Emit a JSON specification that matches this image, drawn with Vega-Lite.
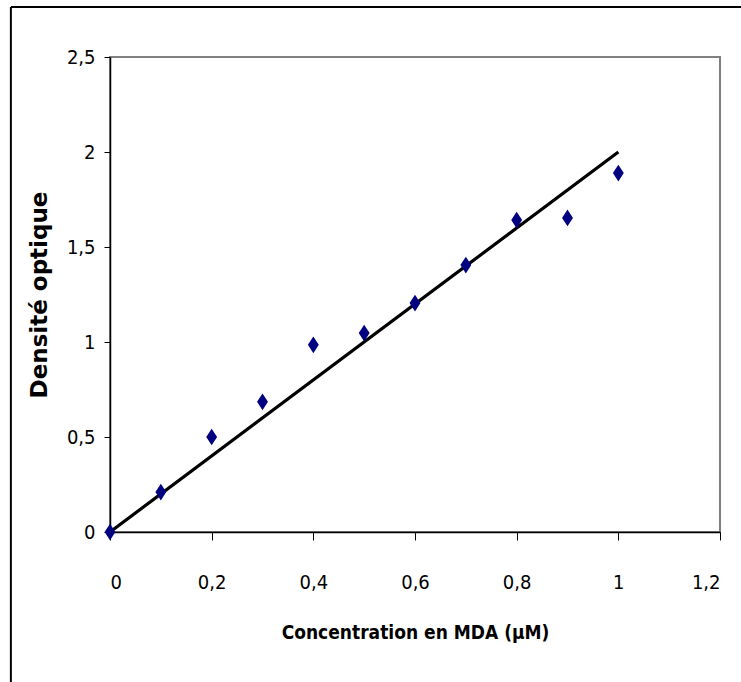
{
  "$schema": "https://vega.github.io/schema/vega-lite/v6.json",
  "width": 610,
  "height": 475,
  "autosize": {"type": "none"},
  "padding": {"left": 110, "top": 57, "right": 21, "bottom": 150},
  "background": "white",
  "config": {
    "locale": {"number": {"decimal": ",", "thousands": ".", "grouping": [3], "currency": ["", " €"]}},
    "view": {"stroke": "#808080", "strokeWidth": 2},
    "axis": {
      "grid": false,
      "domainColor": "#000000",
      "domainWidth": 1.5,
      "tickColor": "#000000",
      "tickWidth": 1,
      "labelFont": "DejaVu Sans Condensed, Roboto Condensed, Liberation Sans, sans-serif",
      "labelFontSize": 20,
      "labelColor": "#000000",
      "titleColor": "#000000",
      "titleFontWeight": "bold"
    }
  },
  "datasets": {
    "points": [
      {"conc": 0, "od": 0},
      {"conc": 0.1, "od": 0.21},
      {"conc": 0.2, "od": 0.5},
      {"conc": 0.3, "od": 0.685},
      {"conc": 0.4, "od": 0.985},
      {"conc": 0.5, "od": 1.047},
      {"conc": 0.6, "od": 1.205},
      {"conc": 0.7, "od": 1.405},
      {"conc": 0.8, "od": 1.642},
      {"conc": 0.9, "od": 1.653},
      {"conc": 1.0, "od": 1.889}
    ],
    "fit": [
      {"conc": 0, "od": 0},
      {"conc": 1.0, "od": 2.0}
    ],
    "one": [{}]
  },
  "layer": [
    {
      "data": {"name": "fit"},
      "mark": {"type": "line", "color": "#000000", "strokeWidth": 3.2, "clip": false},
      "encoding": {
        "x": {
          "field": "conc",
          "type": "quantitative",
          "scale": {"domain": [0, 1.2], "nice": false},
          "axis": {
            "values": [0, 0.2, 0.4, 0.6, 0.8, 1.0, 1.2],
            "format": "~g",
            "tickSize": 8,
            "labelPadding": 32,
            "title": "Concentration en MDA (µM)",
            "titleFont": "DejaVu Sans Condensed, Roboto Condensed, Liberation Sans, sans-serif",
            "titleFontSize": 19,
            "titlePadding": 31
          }
        },
        "y": {
          "field": "od",
          "type": "quantitative",
          "scale": {"domain": [0, 2.5], "nice": false},
          "axis": {
            "values": [0, 0.5, 1, 1.5, 2, 2.5],
            "format": "~g",
            "tickSize": 6,
            "labelPadding": 9,
            "title": "Densité optique",
            "titleFont": "DejaVu Sans, sans-serif",
            "titleFontSize": 23,
            "titlePadding": 15
          }
        }
      }
    },
    {
      "data": {"name": "points"},
      "mark": {
        "type": "point",
        "shape": "M0,-1L0.65,0L0,1L-0.65,0Z",
        "filled": true,
        "color": "#000080",
        "opacity": 1,
        "size": 280,
        "clip": false
      },
      "encoding": {
        "x": {"field": "conc", "type": "quantitative"},
        "y": {"field": "od", "type": "quantitative"}
      }
    },
    {
      "data": {"name": "one"},
      "mark": {"type": "rule", "color": "#000000", "strokeWidth": 2, "clip": false},
      "encoding": {
        "x": {"datum": -0.195},
        "y": {"datum": 2.763},
        "y2": {"datum": -0.9}
      }
    },
    {
      "data": {"name": "one"},
      "mark": {"type": "rule", "color": "#000000", "strokeWidth": 2, "clip": false},
      "encoding": {
        "x": {"datum": -0.195},
        "x2": {"datum": 1.3},
        "y": {"datum": 2.763}
      }
    }
  ]
}
